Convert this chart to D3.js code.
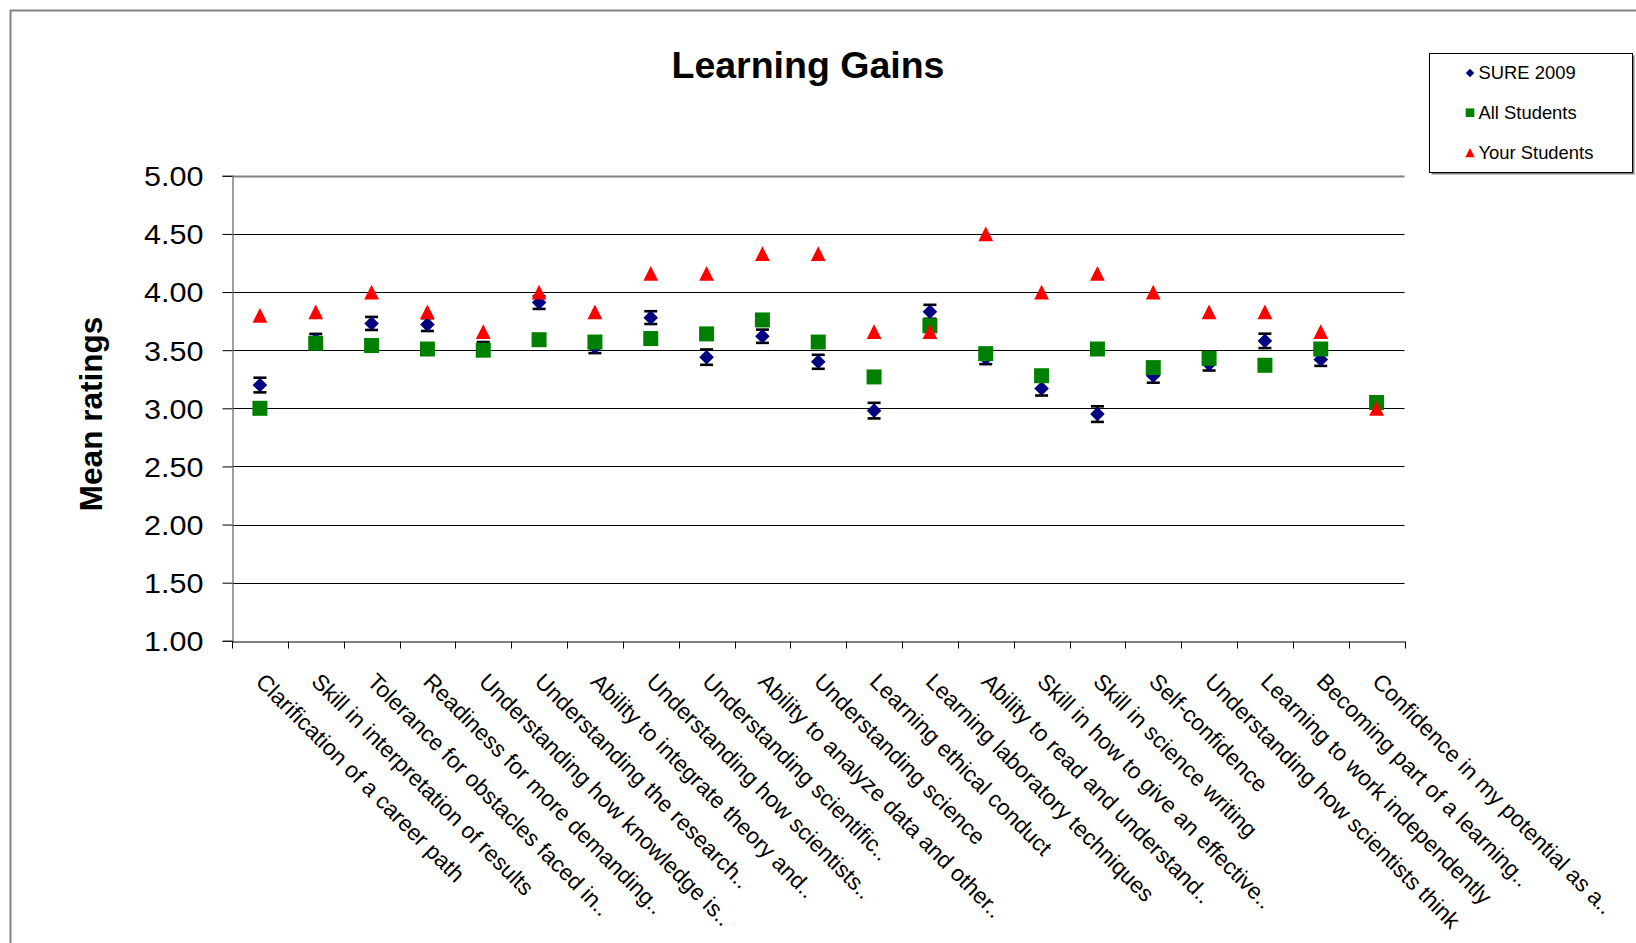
<!DOCTYPE html>
<html>
<head>
<meta charset="utf-8">
<script src="https://cdn.jsdelivr.net/npm/d3@7"></script>
<style>
  html, body { margin: 0; padding: 0; background: #fff; }
  svg { display: block; font-family: "Liberation Sans", Arial, sans-serif; }
</style>
</head>
<body>
<svg id="chart" width="1636" height="943"></svg>
<script>
const categories = [
  "Clarification of a career path",
  "Skill in interpretation of results",
  "Tolerance for obstacles faced in..",
  "Readiness for more demanding..",
  "Understanding how knowledge is..",
  "Understanding the research..",
  "Ability to integrate theory and..",
  "Understanding how scientists..",
  "Understanding scientific..",
  "Ability to analyze data and other..",
  "Understanding science",
  "Learning ethical conduct",
  "Learning laboratory techniques",
  "Ability to read and understand..",
  "Skill in how to give an effective..",
  "Skill in science writing",
  "Self-confidence",
  "Understanding how scientists think",
  "Learning to work independently",
  "Becoming part of a learning..",
  "Confidence in my potential as a.."
];
const sure2009 = [3.20, 3.59, 3.73, 3.72, 3.52, 3.91, 3.525, 3.78, 3.44, 3.62, 3.40, 2.98, 3.83, 3.43, 3.17, 2.95, 3.28, 3.38, 3.58, 3.42, null];
const sureError = [0.063, 0.05, 0.056, 0.055, 0.05, 0.055, 0.05, 0.055, 0.066, 0.057, 0.06, 0.067, 0.06, 0.05, 0.06, 0.067, 0.06, 0.055, 0.062, 0.055, null];
const allStudents = [3.00, 3.56, 3.54, 3.51, 3.50, 3.59, 3.57, 3.60, 3.64, 3.76, 3.57, 3.27, 3.71, 3.47, 3.28, 3.51, 3.35, 3.43, 3.37, 3.51, 3.05];
const yourStudents = [3.80, 3.83, 4.00, 3.83, 3.66, 4.00, 3.83, 4.16, 4.16, 4.33, 4.33, 3.66, 3.66, 4.50, 4.00, 4.16, 4.00, 3.83, 3.83, 3.66, 3.00];
const yTicks = [1.0, 1.5, 2.0, 2.5, 3.0, 3.5, 4.0, 4.5, 5.0];
const seriesNames = ["SURE 2009", "All Students", "Your Students"];

const svg = d3.select("#chart");
const plot = { left: 232, right: 1404.5, top: 175.8, bottom: 640.8 };

// outer chart border
svg.append("rect").attr("x", 10.5).attr("y", 10.5).attr("width", 1700).attr("height", 1000)
  .attr("fill", "#fff").attr("stroke", "#808080").attr("stroke-width", 2);

const x = d3.scaleBand().domain(categories).range([plot.left, plot.right]).padding(0);
const y = d3.scaleLinear().domain([1, 5]).range([plot.bottom, plot.top]);

// gridlines
svg.append("g").selectAll("line").data(yTicks.filter(d => d > 1)).join("line")
  .attr("x1", plot.left).attr("x2", plot.right)
  .attr("y1", d => Math.round(y(d)) + 0.5).attr("y2", d => Math.round(y(d)) + 0.5)
  .attr("stroke", d => d === 5 ? "#808080" : "#000")
  .attr("stroke-width", d => d === 5 ? 2 : 1);

// y axis
const yAxis = d3.axisLeft(y).tickValues(yTicks).tickSize(10).tickFormat(d3.format(".2f"));
const gy = svg.append("g").attr("transform", `translate(${plot.left + 0.5},0)`).call(yAxis);
gy.select(".domain").attr("stroke", "#808080").attr("stroke-width", 1.5);
gy.selectAll(".tick line").attr("stroke", "#000").attr("stroke-width", 1);
gy.selectAll(".tick text")
  .attr("font-size", 27.5).attr("fill", "#000")
  .attr("font-family", "Liberation Sans, Arial, sans-serif")
  .attr("x", 0).attr("dy", "0.36em")
  .attr("transform", "translate(-29,0) scale(1.11,1)");

// x axis
const xAxis = d3.axisBottom(x).tickSize(0).tickFormat("");
const gx = svg.append("g").attr("transform", `translate(0,${Math.round(plot.bottom) + 0.5})`).call(xAxis);
gx.select(".domain").attr("stroke", "#000").attr("stroke-width", 1);
gx.selectAll(".tick").remove();
const boundaries = categories.map(c => x(c)).concat([plot.right]);
gx.selectAll("line.bt").data(boundaries).join("line").attr("class", "bt")
  .attr("x1", d => Math.round(d) + 0.5).attr("x2", d => Math.round(d) + 0.5)
  .attr("y1", 0).attr("y2", 7).attr("stroke", "#000").attr("stroke-width", 1);

// x labels
svg.append("g").selectAll("text").data(categories).join("text")
  .attr("transform", d => `translate(${x(d) + x.bandwidth() / 2 - 5.5},683) rotate(45)`)
  .attr("font-size", 22.7).attr("fill", "#000")
  .text(d => d);

// title
svg.append("text").attr("x", 808).attr("y", 78).attr("text-anchor", "middle")
  .attr("font-size", 37.5).attr("font-weight", "bold").attr("fill", "#000")
  .text("Learning Gains");

// y title
svg.append("text")
  .attr("transform", `translate(102,414) rotate(-90)`)
  .attr("text-anchor", "middle").attr("font-size", 31.5).attr("font-weight", "bold").attr("fill", "#000")
  .text("Mean ratings");

const cx = i => x(categories[i]) + x.bandwidth() / 2;

// error bars (SURE 2009)
const eb = svg.append("g");
sure2009.forEach((v, i) => {
  if (v == null) return;
  const e = sureError[i];
  const xc = cx(i);
  eb.append("line").attr("x1", xc).attr("x2", xc).attr("y1", y(v - e)).attr("y2", y(v + e))
    .attr("stroke", "#000").attr("stroke-width", 2);
  [v - e, v + e].forEach(t => {
    eb.append("line").attr("x1", xc - 6.5).attr("x2", xc + 6.5).attr("y1", y(t)).attr("y2", y(t))
      .attr("stroke", "#000").attr("stroke-width", 2.6);
  });
});

const diamond = s => `M0,${-s}L${s},0L0,${s}L${-s},0Z`;
const square = s => `M${-s},${-s}H${s}V${s}H${-s}Z`;
const triangle = s => `M0,${-s}L${s},${s}L${-s},${s}Z`;

svg.append("g").selectAll("path").data(sure2009.map((v, i) => [v, i]).filter(d => d[0] != null)).join("path")
  .attr("d", diamond(7.3)).attr("fill", "#000080")
  .attr("transform", d => `translate(${cx(d[1])},${y(d[0])})`);

svg.append("g").selectAll("path").data(allStudents.map((v, i) => [v, i])).join("path")
  .attr("d", square(7.5)).attr("fill", "#008000")
  .attr("transform", d => `translate(${cx(d[1])},${y(d[0])})`);

svg.append("g").selectAll("path").data(yourStudents.map((v, i) => [v, i])).join("path")
  .attr("d", triangle(7.4)).attr("fill", "#ff0000")
  .attr("transform", d => `translate(${cx(d[1])},${y(d[0])})`);

// legend
const lg = svg.append("g");
lg.append("rect").attr("x", 1431.5).attr("y", 55.5).attr("width", 203).attr("height", 119)
  .attr("fill", "#808080");
lg.append("rect").attr("x", 1429.5).attr("y", 53.5).attr("width", 203).attr("height", 119)
  .attr("fill", "#fff").attr("stroke", "#000").attr("stroke-width", 1);
const legendY = [73, 112.7, 152.7];
const legendShapes = [diamond(4.2), square(4.3), triangle(4.6)];
const legendColors = ["#000080", "#008000", "#ff0000"];
seriesNames.forEach((n, i) => {
  lg.append("path").attr("d", legendShapes[i]).attr("fill", legendColors[i])
    .attr("transform", `translate(1470,${legendY[i]})`);
  lg.append("text").attr("x", 1478.5).attr("y", legendY[i]).attr("dy", "0.35em")
    .attr("font-size", 18.4).attr("fill", "#000").text(n);
});
</script>
</body>
</html>
